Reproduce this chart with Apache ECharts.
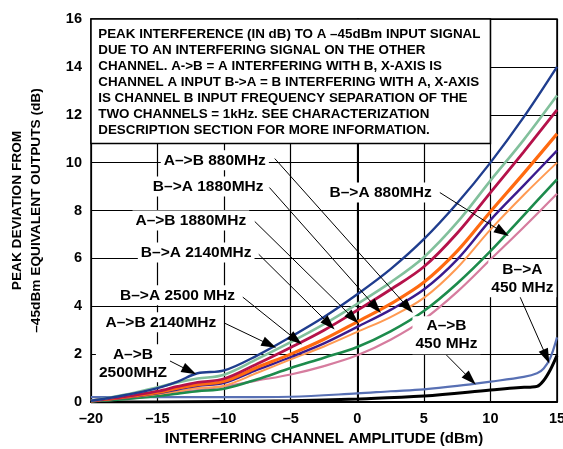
<!DOCTYPE html>
<html>
<head>
<meta charset="utf-8">
<script src="https://cdn.jsdelivr.net/npm/echarts@6/dist/echarts.min.js"></script>
<style>
  html, body { margin: 0; padding: 0; background: #fff; }
  #chart { width: 563px; height: 449px; }
</style>
</head>
<body>
<div id="chart"></div>
<script>
// x positions (dBm) shared by the eight upper curves
var xs = [-20, -17.5, -15, -13.5, -12, -10, -7.5, -5, -2.5, 0, 2.5, 5, 7.5, 10, 12.5, 15];

var navy        = [0.05, 0.28, 0.58, 0.85, 1.2, 1.32, 1.95, 2.72, 3.55, 4.5, 5.55, 6.8, 8.3, 10.0, 11.9, 14.0];
var lightGreen  = [0.05, 0.3, 0.62, 0.82, 0.98, 1.14, 1.8, 2.5, 3.25, 4.1, 5.0, 6.05, 7.5, 9.25, 10.95, 12.8];
var crimson     = [0.05, 0.22, 0.45, 0.65, 0.82, 0.97, 1.6, 2.28, 3.0, 3.83, 4.7, 5.65, 7.05, 8.75, 10.45, 12.2];
var orange      = [0.05, 0.2, 0.4, 0.58, 0.72, 0.87, 1.45, 2.0, 2.62, 3.35, 4.1, 5.0, 6.3, 7.95, 9.55, 11.2];
var purple      = [0.05, 0.18, 0.36, 0.52, 0.68, 0.8, 1.35, 1.88, 2.45, 3.14, 3.85, 4.7, 5.95, 7.6, 9.05, 10.5];
var lightOrange = [0.05, 0.17, 0.33, 0.45, 0.58, 0.68, 1.22, 1.78, 2.32, 2.93, 3.55, 4.35, 5.6, 7.2, 8.65, 10.0];
var green       = [0.03, 0.12, 0.25, 0.35, 0.45, 0.55, 0.95, 1.42, 1.85, 2.3, 2.95, 3.8, 4.95, 6.3, 7.8, 9.3];
var pink        = [0.03, 0.12, 0.28, 0.4, 0.5, 0.65, 0.9, 1.15, 1.5, 1.95, 2.6, 3.45, 4.6, 5.95, 7.3, 8.7];

// the two 450 MHz curves
var xsBlue   = [-20, -15, -10, -5, 0, 2.5, 5, 7.5, 10, 12.5, 13.5, 14, 14.5, 15];
var blue450  = [0.2, 0.2, 0.2, 0.22, 0.36, 0.45, 0.53, 0.67, 0.85, 1.05, 1.2, 1.4, 1.85, 2.7];
var xsBlack  = [-20, -15, -10, -5, 0, 5, 10, 12, 13, 13.5, 14, 14.5, 15];
var black450 = [0, 0, 0.02, 0.05, 0.13, 0.25, 0.5, 0.6, 0.62, 0.65, 0.9, 1.35, 1.95];

var xTicks = [-20, -15, -10, -5, 0, 5, 10, 15];
var yTicks = [0, 2, 4, 6, 8, 10, 12, 14, 16];

// callout labels: text and position
var labelTexts = ['A–>B 880MHz', 'B–>A 1880MHz', 'A–>B 1880MHz', 'B–>A 2140MHz',
                  'B–>A 2500 MHz', 'A–>B 2140MHz', 'A–>B\n2500MHZ', 'B–>A 880MHz',
                  'B–>A\n450 MHz', 'A–>B\n450 MHz'];
var labelX = [-10.7, -11.2, -12.5, -12.1, -13.5, -14.75, -16.85, 1.75, 12.4, 6.7];
var labelY = [10.1, 9.0, 7.58, 6.25, 4.46, 3.33, 1.62, 8.75, 5.17, 2.79];
// arrows: start and tip
var arrowFromX = [-6.2, -6.6, -7.7, -7.4, -8.6, -9.95, -14.8, 6.2, 12.2, 6.7];
var arrowFromY = [10.17, 8.96, 7.54, 6.17, 4.38, 3.29, 1.92, 8.75, 4.42, 1.96];
var arrowToX   = [3.8, 1.4, -0.3, -2.1, -4.6, -6.6, -12.6, 10.9, 14.2, 8.5];
var arrowToY   = [3.95, 3.95, 3.5, 3.25, 2.6, 2.4, 1.3, 7.1, 1.9, 0.95];

var boxText = 'PEAK INTERFERENCE (IN dB) TO A –45dBm INPUT SIGNAL\n' +
    'DUE TO AN INTERFERING SIGNAL ON THE OTHER\n' +
    'CHANNEL. A->B = A INTERFERING WITH B, X-AXIS IS\n' +
    'CHANNEL A INPUT B->A = B INTERFERING WITH A, X-AXIS\n' +
    'IS CHANNEL B INPUT FREQUENCY SEPARATION OF THE\n' +
    'TWO CHANNELS = 1kHz. SEE CHARACTERIZATION\n' +
    'DESCRIPTION SECTION FOR MORE INFORMATION.';

function pairs(x, y) {
    return x.map(function (v, i) { return [v, y[i]]; });
}

function curve(name, x, y, color, width) {
    return {
        name: name,
        type: 'line',
        data: pairs(x, y),
        showSymbol: false,
        smooth: 0.35,
        lineStyle: { color: color, width: width },
        z: 3
    };
}

var font = 'Liberation Sans, Arial, Helvetica, sans-serif';

var chart = echarts.init(document.getElementById('chart'));
var option = {
    animation: false,
    backgroundColor: '#fff',
    textStyle: { fontFamily: font },
    grid: {
        left: 91, right: 6, top: 19, bottom: 47,
        outerBoundsMode: 'none',
        show: true, borderColor: '#000', borderWidth: 1.5
    },
    xAxis: {
        type: 'value',
        min: xTicks[0],
        max: xTicks[xTicks.length - 1],
        interval: 5,
        name: 'INTERFERING CHANNEL AMPLITUDE (dBm)',
        nameLocation: 'middle',
        nameGap: 29,
        nameTextStyle: { fontSize: 15, fontWeight: 'bold', color: '#000', fontFamily: font },
        axisLine: { lineStyle: { color: '#000', width: 2 } },
        axisTick: { show: false },
        axisLabel: {
            color: '#000', fontSize: 14.5, fontWeight: 'bold', margin: 9, fontFamily: font,
            formatter: function (v) { return String(v).replace('-', '–'); }
        },
        splitLine: { show: true, lineStyle: { color: '#000', width: 1.2 } }
    },
    yAxis: {
        type: 'value',
        min: yTicks[0],
        max: yTicks[yTicks.length - 1],
        interval: 2,
        name: 'PEAK DEVIATION FROM\n–45dBm EQUIVALENT OUTPUTS (dB)',
        nameLocation: 'middle',
        nameRotate: 90,
        nameGap: 45,
        nameTextStyle: { fontSize: 13.7, fontWeight: 'bold', color: '#000', lineHeight: 19, fontFamily: font },
        axisLine: { lineStyle: { color: '#000', width: 2 } },
        axisTick: { show: false },
        axisLabel: { color: '#000', fontSize: 14.5, fontWeight: 'bold', margin: 9, fontFamily: font },
        splitLine: { show: true, lineStyle: { color: '#000', width: 1.2 } }
    },
    series: [
        curve('A->B 450MHz', xsBlack, black450, '#000000', 3),
        curve('B->A 450MHz', xsBlue, blue450, '#5870b4', 2.2),
        curve('pink', xs, pink, '#d67c9e', 2.2),
        curve('green', xs, green, '#1d8b4c', 2.6),
        curve('lightOrange', xs, lightOrange, '#ff9a52', 2),
        curve('purple', xs, purple, '#3b1b8e', 2.4),
        curve('orange', xs, orange, '#ff6a10', 3.2),
        curve('crimson', xs, crimson, '#b5124a', 2.8),
        curve('lightGreen', xs, lightGreen, '#82c09c', 2.6),
        curve('navy', xs, navy, '#1f3d8e', 2.4),
        {
            name: 'notes',
            type: 'line',
            data: [],
            z: 4,
            markArea: {
                silent: true,
                itemStyle: { color: '#fff', borderColor: '#000', borderWidth: 1.5 },
                label: {
                    show: true,
                    position: 'insideTopLeft',
                    distance: 8,
                    color: '#000',
                    fontSize: 13.4,
                    fontWeight: 'bold',
                    lineHeight: 16,
                    fontFamily: font
                },
                data: [[{ name: boxText, coord: [-20, 16] }, { coord: [10, 10.8] }]]
            },
            markLine: {
                silent: true,
                symbol: ['none', 'triangle'],
                symbolSize: [10, 15],
                lineStyle: { color: '#000', width: 1, type: 'solid' },
                label: { show: false },
                data: arrowFromX.map(function (v, i) {
                    return [{ coord: [v, arrowFromY[i]] }, { coord: [arrowToX[i], arrowToY[i]] }];
                })
            },
            markPoint: {
                silent: true,
                symbol: 'rect',
                symbolSize: 0,
                label: {
                    show: true,
                    position: 'inside',
                    formatter: '{b}',
                    color: '#000',
                    fontSize: 15.5,
                    fontWeight: 'bold',
                    lineHeight: 18,
                    backgroundColor: '#fff',
                    padding: [1, 3],
                    fontFamily: font
                },
                data: labelTexts.map(function (t, i) {
                    return { name: t, coord: [labelX[i], labelY[i]] };
                })
            }
        }
    ]
};
chart.setOption(option);
</script>
</body>
</html>
